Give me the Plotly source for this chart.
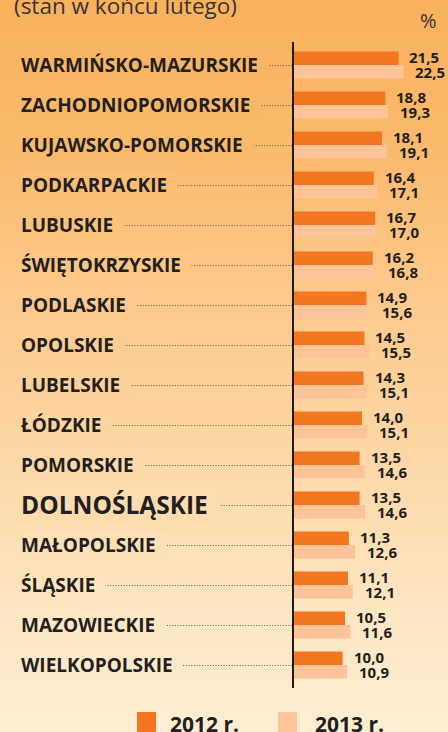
import plotly.graph_objects as go

# ---- data ----
regions = ["WARMIŃSKO-MAZURSKIE", "ZACHODNIOPOMORSKIE", "KUJAWSKO-POMORSKIE",
           "PODKARPACKIE", "LUBUSKIE", "ŚWIĘTOKRZYSKIE", "PODLASKIE", "OPOLSKIE",
           "LUBELSKIE", "ŁÓDZKIE", "POMORSKIE", "DOLNOŚLĄSKIE", "MAŁOPOLSKIE",
           "ŚLĄSKIE", "MAZOWIECKIE", "WIELKOPOLSKIE"]
v2012 = [21.5, 18.8, 18.1, 16.4, 16.7, 16.2, 14.9, 14.5, 14.3, 14.0, 13.5, 13.5, 11.3, 11.1, 10.5, 10.0]
v2013 = [22.5, 19.3, 19.1, 17.1, 17.0, 16.8, 15.6, 15.5, 15.1, 15.1, 14.6, 14.6, 12.6, 12.1, 11.6, 10.9]
years = ["2012 r.", "2013 r."]
subtitle = "(stan w końcu lutego)"
unit = "%"
highlight = "DOLNOŚLĄSKIE"

# ---- styling ----
W, H = 448, 732
C2012 = "#F37721"
C2013 = "#FDC499"
TXT = "#231F20"
FONT = "Open Sans"


def pxx(p):
    return p / W


def pyy(p):
    return 1 - p / H


grad_stops = [(0, (249, 177, 94)), (150, (250, 186, 108)), (290, (253, 200, 138)),
              (450, (253, 215, 165)), (600, (253, 229, 192)), (732, (253, 238, 212))]


def grad(p):
    for (a, ca), (b, cb) in zip(grad_stops[:-1], grad_stops[1:]):
        if a <= p <= b:
            t = (p - a) / (b - a)
            c = [round(ca[k] + (cb[k] - ca[k]) * t) for k in range(3)]
            return "rgb(%d,%d,%d)" % tuple(c)
    return "rgb(%d,%d,%d)" % grad_stops[-1][1]


AX_TOP, AX_BOT = 42, 688
n = len(regions)
pad = 0.575
pitch = (AX_BOT - AX_TOP) / (n - 1 + 2 * pad)


def row_px(i):
    return AX_TOP + (i + pad) * pitch


fig = go.Figure()
fig.add_bar(y=regions, x=v2012, orientation="h", marker=dict(color=C2012, line_width=0),
            name=years[0], hoverinfo="x+y")
fig.add_bar(y=regions, x=v2013, orientation="h", marker=dict(color=C2013, line_width=0),
            name=years[1], hoverinfo="x+y")

shapes = []
# background gradient
band = 4
for y0 in range(0, H, band):
    shapes.append(dict(type="rect", xref="paper", yref="paper", x0=0, x1=1,
                       y0=pyy(min(y0 + band, H)), y1=pyy(y0), line_width=0,
                       fillcolor=grad(y0 + band / 2), layer="below"))

annotations = []
for i, r in enumerate(regions):
    yc = row_px(i)
    # leader line
    shapes.append(dict(type="line", xref="paper", yref="paper", x0=pxx(40), x1=pxx(292),
                       y0=pyy(yc + 0.5), y1=pyy(yc + 0.5),
                       line=dict(color="#6a5a4c", width=1, dash="1px,1.7px"), layer="below"))
    big = (r == highlight)
    annotations.append(dict(xref="paper", yref="y", x=pxx(20), y=r, xanchor="left",
                            yanchor="middle", showarrow=False,
                            text="<b>%s</b>\u00a0\u00a0" % r,
                            font=dict(family=FONT, size=24.5 if big else 19, color=TXT),
                            bgcolor=grad(yc), borderpad=0))

for vals, ysh, xsh in ((v2012, 8, 9), (v2013, -7, 10)):
    for r, v in zip(regions, vals):
        annotations.append(dict(xref="x", yref="y", x=v, y=r, xanchor="left",
                                yanchor="middle", showarrow=False, xshift=xsh, yshift=ysh,
                                text="<b>%s</b>" % ("%.1f" % v).replace(".", ","),
                                font=dict(family=FONT, size=15, color=TXT)))

# subtitle and unit
annotations.append(dict(xref="paper", yref="paper", x=pxx(12), y=pyy(23), xanchor="left",
                        yanchor="bottom", showarrow=False, text=subtitle,
                        font=dict(family=FONT, size=22.5, color="#3a3430")))
annotations.append(dict(xref="paper", yref="paper", x=pxx(428), y=pyy(20), xanchor="center",
                        yanchor="middle", showarrow=False, text=unit,
                        font=dict(family=FONT, size=20, color="#3a3430")))

# legend
for (x0, col, tx, label) in ((137, C2012, 168, years[0]), (278, C2013, 313, years[1])):
    shapes.append(dict(type="rect", xref="paper", yref="paper", x0=pxx(x0), x1=pxx(x0 + 19),
                       y0=pyy(732), y1=pyy(712), line_width=0, fillcolor=col))
    annotations.append(dict(xref="paper", yref="paper", x=pxx(tx), y=pyy(724), xanchor="left",
                            yanchor="middle", showarrow=False, text="<b>%s</b>" % label,
                            font=dict(family=FONT, size=21, color=TXT)))

fig.update_layout(
    width=W, height=H, margin=dict(l=0, r=0, t=0, b=0),
    paper_bgcolor=grad(0), plot_bgcolor="rgba(0,0,0,0)",
    barmode="group", bargap=0.325, bargroupgap=0, showlegend=False,
    shapes=shapes, annotations=annotations,
    xaxis=dict(domain=[pxx(294), 1], range=[0, (W - 294) / 4.86], visible=False, fixedrange=True),
    yaxis=dict(domain=[pyy(AX_BOT), pyy(AX_TOP)], range=[n - 1 + pad, -pad],
               showticklabels=False, showgrid=False, zeroline=False, ticks="",
               showline=True, linecolor="#1e1a18", linewidth=2, fixedrange=True),
)

fig.write_html("out.html", config={"displayModeBar": False},
               post_script="document.body.style.margin='0';document.body.style.overflow='hidden';")
